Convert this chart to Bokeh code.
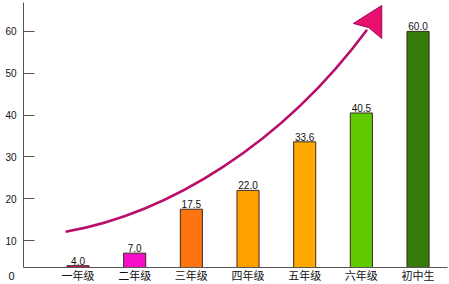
from bokeh.plotting import figure
from bokeh.models import Range1d, FixedTicker, ColumnDataSource
from bokeh.embed import file_html
from bokeh.resources import INLINE
from bokeh.core.properties import value

# ---- data ----
categories = ["一年级", "二年级", "三年级", "四年级", "五年级", "六年级", "初中生"]
values = [4.0, 7.0, 17.5, 22.0, 33.6, 40.5, 60.0]
bar_colors = ["#E0115F", "#F40FC6", "#FF7412", "#FFA000", "#FFA800", "#5FCB00", "#367A0C"]
y_ticks = [10, 20, 30, 40, 50, 60]
origin_label = "0"

# decorative trend arrow (data space): cubic curve + arrow head
trend_start = (0.78, 12.1)
trend_ctrl1 = (2.6, 16.5)
trend_ctrl2 = (4.6, 33.0)
trend_end = (6.10, 60.4)
head_x = [6.36, 5.86, 6.13, 6.36]
head_y = [66.2, 61.9, 60.9, 58.3]

xs = list(range(1, len(categories) + 1))
labels = [f"{v:.1f}" for v in values]

src = ColumnDataSource(dict(x=xs, top=values, color=bar_colors, label=labels))

X0, X1 = 0.038, 7.52
p = figure(width=449, height=284, output_backend="svg", toolbar_location=None,
           x_range=Range1d(X0, X1), y_range=Range1d(3.57, 66.9),
           min_border_left=23, min_border_right=2, min_border_top=2,
           min_border_bottom=16)
p.outline_line_color = None
p.grid.visible = False
p.background_fill_color = "white"
p.border_fill_color = "white"

p.vbar(x="x", top="top", bottom=0, width=0.39, fill_color="color",
       line_color="#3a2a20", line_width=1, source=src)

p.text(x="x", y="top", text="label", y_offset=-1, text_align="center",
       text_baseline="bottom", text_font=value("Liberation Sans"),
       text_font_size="10px", text_color="#111111", source=src)

p.bezier(x0=[trend_start[0]], y0=[trend_start[1]], x1=[trend_end[0]], y1=[trend_end[1]],
         cx0=[trend_ctrl1[0]], cy0=[trend_ctrl1[1]], cx1=[trend_ctrl2[0]], cy1=[trend_ctrl2[1]],
         line_color="#B8106A", line_width=2.6)
p.patch(head_x, head_y, fill_color="#E8106E", line_color="#A8005A", line_width=1)

# x axis (the "0" origin label rides on a tick at the axis start)
x_ticks = [X0 + 0.005] + xs
overrides = {x: c for x, c in zip(xs, categories)}
overrides[x_ticks[0]] = origin_label + "\u00a0" * 8
p.xaxis.ticker = FixedTicker(ticks=x_ticks)
p.xaxis.major_label_overrides = overrides
p.xaxis.major_tick_line_color = None
p.xaxis.major_tick_out = 0
p.xaxis.major_tick_in = 0
p.xaxis.minor_tick_line_color = None
p.xaxis.major_label_standoff = 2
p.xaxis.major_label_text_font = "Liberation Sans, Noto Sans CJK SC"
p.xaxis.major_label_text_font_size = "11px"
p.xaxis.major_label_text_color = "#111111"
p.xaxis.axis_line_color = "#555555"

# y axis
p.yaxis.ticker = FixedTicker(ticks=y_ticks)
p.yaxis.major_tick_in = 11
p.yaxis.major_tick_out = 0
p.yaxis.minor_tick_line_color = None
p.yaxis.major_tick_line_color = "#555555"
p.yaxis.axis_line_color = "#555555"
p.yaxis.major_label_standoff = 7
p.yaxis.major_label_text_font = "Liberation Sans"
p.yaxis.major_label_text_font_size = "10px"
p.yaxis.major_label_text_color = "#111111"

open("out.html", "w").write(file_html(p, INLINE))
